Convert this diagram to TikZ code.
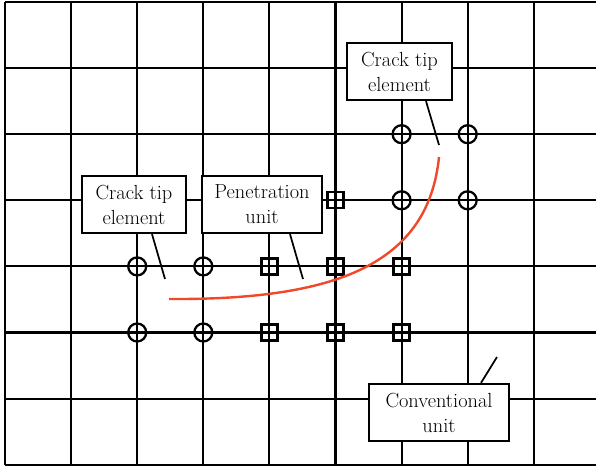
\documentclass[tikz,border=0pt]{standalone}
\usepackage{tikz}
\usetikzlibrary{calc}

\definecolor{crackred}{RGB}{240,72,40}

\begin{document}
\begin{tikzpicture}[
  x=0.75pt, y=-0.75pt,
  line width=1.5pt,
  % grid of the finite element mesh
  gridline/.style={line width=1.6pt,black},
  % label boxes sit on top of the mesh (sizes in pt, 1px = 0.75pt)
  notebox/.style={draw,fill=white,line width=1.7pt,align=center,inner sep=0pt,
                  minimum height=42.75pt,font=\fontsize{15.3}{18.75}\selectfont},
  leader/.style={line width=1.3pt},
  tipmark/.style={line width=1.7pt},
  crackline/.style={crackred,line width=1.8pt},
]

%--- geometry ----------------------------------------------------------------
\def\xzero{5}          % left edge of the mesh
\def\yzero{2}          % top edge of the mesh
\def\cell{66.1}        % element size
\def\xend{596}         % mesh runs off the right side
\def\yend{464.7}       % bottom edge of the mesh
\def\rtip{9}           % radius of a crack-tip marker
\def\hpen{8}           % half side of a penetration marker

\useasboundingbox (0,0) rectangle (596,468);

%--- mesh --------------------------------------------------------------------
\foreach \i in {0,...,8}
  \draw[gridline] (\xzero+\i*\cell,\yzero) -- (\xzero+\i*\cell,\yend);
\foreach \j in {0,...,7}
  \draw[gridline] (\xzero,\yzero+\j*\cell) -- (\xend,\yzero+\j*\cell);

%--- crack tip elements (circles) --------------------------------------------
\foreach \i/\j in {2/4, 3/4, 2/5, 3/5, 6/2, 7/2, 6/3, 7/3}
  \draw[tipmark] (\xzero+\i*\cell,\yzero+\j*\cell) circle[radius=\rtip];

%--- penetration units (squares) ---------------------------------------------
\foreach \i/\j in {5/3, 4/4, 5/4, 6/4, 4/5, 5/5, 6/5}
  \draw[tipmark] ($(\xzero+\i*\cell,\yzero+\j*\cell)+(-\hpen,-\hpen)$)
    rectangle ($(\xzero+\i*\cell,\yzero+\j*\cell)+(\hpen,\hpen)$);

%--- crack path --------------------------------------------------------------
\draw[crackline] (169,299) .. controls (335,300) and (428,265) .. (439,157);

%--- labels ------------------------------------------------------------------
\node[notebox,minimum width=78pt]    (lcrack) at (134,204.5) {Crack tip\\element};
\node[notebox,minimum width=90pt]    (pen)    at (262,204.5) {Penetration\\unit};
\node[notebox,minimum width=78.75pt] (rcrack) at (399.5,71.5) {Crack tip\\element};
\node[notebox,minimum width=105pt]   (conv)   at (439,412.5) {Conventional\\unit};

% free ends of the leaders, inside the element they point at
\coordinate (ltip) at (165,279);
\coordinate (ptip) at (303,279);
\coordinate (rtip) at (439,145);
\coordinate (ctip) at (497,357);

\draw[leader] ($(lcrack.south)+(18,0)$) -- (ltip);
\draw[leader] ($(pen.south)+(28,0)$) -- (ptip);
\draw[leader] ($(rcrack.south)+(26.5,0)$) -- (rtip);
\draw[leader] ($(conv.north)+(42,0)$) -- (ctip);

\end{tikzpicture}
\end{document}
